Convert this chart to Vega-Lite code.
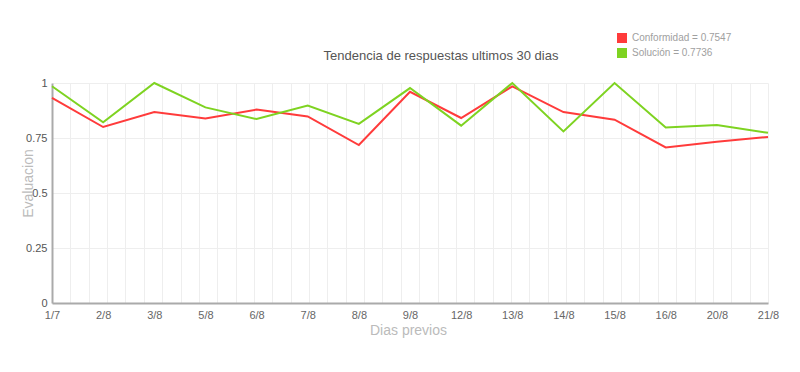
{
  "$schema": "https://vega.github.io/schema/vega-lite/v6.json",
  "width": 716,
  "height": 220,
  "autosize": {"type": "none"},
  "padding": {"left": 52, "top": 83, "right": 32, "bottom": 69},
  "background": "white",
  "config": {
    "font": "Liberation Sans",
    "view": {"stroke": null},
    "axis": {"labelFont": "Liberation Sans", "titleFont": "Liberation Sans", "titleFontWeight": "normal"}
  },
  "title": {
    "text": "Tendencia de respuestas ultimos 30 dias",
    "fontSize": 13,
    "font": "Liberation Sans",
    "fontWeight": "normal",
    "color": "#555555",
    "anchor": "middle",
    "dx": 31,
    "offset": -30
  },
  "data": {
    "values": [
      {"d": "1/7", "i": 0, "serie": "Conformidad = 0.7547", "v": 0.932},
      {"d": "2/8", "i": 1, "serie": "Conformidad = 0.7547", "v": 0.80},
      {"d": "3/8", "i": 2, "serie": "Conformidad = 0.7547", "v": 0.868},
      {"d": "5/8", "i": 3, "serie": "Conformidad = 0.7547", "v": 0.839},
      {"d": "6/8", "i": 4, "serie": "Conformidad = 0.7547", "v": 0.879},
      {"d": "7/8", "i": 5, "serie": "Conformidad = 0.7547", "v": 0.848},
      {"d": "8/8", "i": 6, "serie": "Conformidad = 0.7547", "v": 0.718},
      {"d": "9/8", "i": 7, "serie": "Conformidad = 0.7547", "v": 0.960},
      {"d": "12/8", "i": 8, "serie": "Conformidad = 0.7547", "v": 0.841},
      {"d": "13/8", "i": 9, "serie": "Conformidad = 0.7547", "v": 0.985},
      {"d": "14/8", "i": 10, "serie": "Conformidad = 0.7547", "v": 0.868},
      {"d": "15/8", "i": 11, "serie": "Conformidad = 0.7547", "v": 0.833},
      {"d": "16/8", "i": 12, "serie": "Conformidad = 0.7547", "v": 0.707},
      {"d": "20/8", "i": 13, "serie": "Conformidad = 0.7547", "v": 0.733},
      {"d": "21/8", "i": 14, "serie": "Conformidad = 0.7547", "v": 0.7547},
      {"d": "1/7", "i": 0, "serie": "Solución = 0.7736", "v": 0.985},
      {"d": "2/8", "i": 1, "serie": "Solución = 0.7736", "v": 0.821},
      {"d": "3/8", "i": 2, "serie": "Solución = 0.7736", "v": 1.0},
      {"d": "5/8", "i": 3, "serie": "Solución = 0.7736", "v": 0.889},
      {"d": "6/8", "i": 4, "serie": "Solución = 0.7736", "v": 0.836},
      {"d": "7/8", "i": 5, "serie": "Solución = 0.7736", "v": 0.898},
      {"d": "8/8", "i": 6, "serie": "Solución = 0.7736", "v": 0.814},
      {"d": "9/8", "i": 7, "serie": "Solución = 0.7736", "v": 0.977},
      {"d": "12/8", "i": 8, "serie": "Solución = 0.7736", "v": 0.806},
      {"d": "13/8", "i": 9, "serie": "Solución = 0.7736", "v": 1.0},
      {"d": "14/8", "i": 10, "serie": "Solución = 0.7736", "v": 0.780},
      {"d": "15/8", "i": 11, "serie": "Solución = 0.7736", "v": 1.0},
      {"d": "16/8", "i": 12, "serie": "Solución = 0.7736", "v": 0.798},
      {"d": "20/8", "i": 13, "serie": "Solución = 0.7736", "v": 0.809},
      {"d": "21/8", "i": 14, "serie": "Solución = 0.7736", "v": 0.7736}
    ]
  },
  "encoding": {
    "y": {
      "field": "v",
      "type": "quantitative",
      "scale": {"domain": [0, 1], "nice": false},
      "axis": {
        "values": [0, 0.25, 0.5, 0.75, 1],
        "labelExpr": "datum.value + ''",
        "title": "Evaluacion",
        "titleColor": "#bbbbbb",
        "titleFontSize": 14,
        "titleX": -24,
        "titleY": 100,
        "titleAlign": "center",
        "titleBaseline": "middle",
        "labelColor": "#555555",
        "labelFontSize": 11,
        "labelPadding": 5,
        "ticks": false,
        "domainColor": "#aaaaaa",
        "domainWidth": 2,
        "gridColor": "#eeeeee",
        "gridWidth": 1
      }
    },
    "color": {
      "field": "serie",
      "type": "nominal",
      "scale": {"domain": ["Conformidad = 0.7547", "Solución = 0.7736"], "range": ["#ff3b3b", "#7ed321"]},
      "legend": {
        "title": null,
        "orient": "none",
        "legendX": 565,
        "legendY": -50,
        "padding": 0,
        "symbolType": "square",
        "symbolSize": 100,
        "symbolStrokeWidth": 0,
        "labelFontSize": 10,
        "labelColor": "#a0a0a0",
        "labelFont": "Liberation Sans",
        "labelOffset": 5,
        "rowPadding": 5,
        "encode": {
          "symbols": {"update": {"fill": {"scale": "color", "field": "value"}, "strokeWidth": {"value": 0}}}
        }
      }
    }
  },
  "layer": [
    {
      "transform": [{"filter": "datum.serie == 'Conformidad = 0.7547'"}],
      "mark": {"type": "line", "strokeWidth": 2},
      "encoding": {
        "x": {
          "field": "i",
          "type": "quantitative",
          "scale": {"domain": [0, 14], "nice": false, "zero": false},
          "axis": {
            "orient": "bottom",
            "values": [0, 1, 2, 3, 4, 5, 6, 7, 8, 9, 10, 11, 12, 13, 14],
            "labelExpr": "['1/7','2/8','3/8','5/8','6/8','7/8','8/8','9/8','12/8','13/8','14/8','15/8','16/8','20/8','21/8'][datum.value]",
            "grid": false,
            "ticks": false,
            "labelColor": "#666666",
            "labelFontSize": 11,
            "labelPadding": 6,
            "labelFlush": false,
            "labelOverlap": false,
            "domainColor": "#aaaaaa",
            "domainWidth": 2,
            "title": "Dias previos",
            "titleColor": "#bbbbbb",
            "titleFontSize": 14,
            "titleX": 356,
            "titleY": 27,
            "titleBaseline": "middle",
            "titleAlign": "center"
          }
        }
      }
    },
    {
      "transform": [{"filter": "datum.serie == 'Solución = 0.7736'"}],
      "mark": {"type": "line", "strokeWidth": 2},
      "encoding": {
        "x": {
          "field": "i",
          "type": "quantitative",
          "scale": {"domain": [0, 14], "nice": false, "zero": false},
          "axis": {
            "orient": "bottom",
            "values": [0, 0.359, 0.718, 1.077, 1.436, 1.795, 2.154, 2.513, 2.872, 3.231, 3.590, 3.949, 4.308, 4.667, 5.026, 5.385, 5.744, 6.103, 6.462, 6.821, 7.179, 7.538, 7.897, 8.256, 8.615, 8.974, 9.333, 9.692, 10.051, 10.410, 10.769, 11.128, 11.487, 11.846, 12.205, 12.564, 12.923, 13.282, 13.641, 14.0],
            "grid": true,
            "gridColor": "#eeeeee",
            "gridWidth": 1,
            "labels": false,
            "ticks": false,
            "domain": false,
            "title": null
          }
        }
      }
    }
  ],
  "resolve": {"axis": {"x": "independent"}}
}
